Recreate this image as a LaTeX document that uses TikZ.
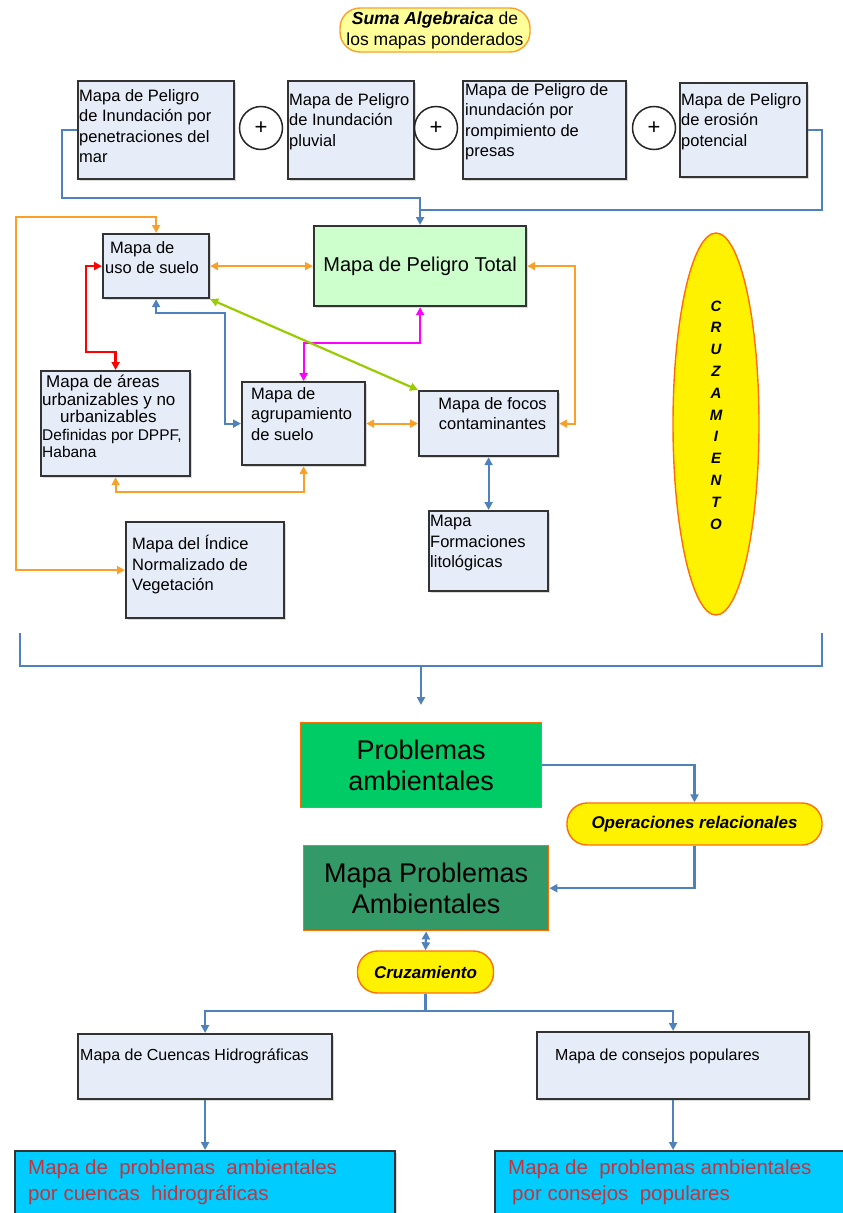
\documentclass[tikz,border=0pt]{standalone}
\usepackage{fontspec}
\setmainfont{Liberation Sans}
\usetikzlibrary{arrows.meta,shapes.geometric,shadows}

\definecolor{boxfill}{RGB}{230,236,248}
\definecolor{lineblue}{RGB}{79,129,189}
\definecolor{lineorange}{RGB}{250,160,40}
\definecolor{linegreen}{RGB}{153,204,0}
\definecolor{linepink}{RGB}{255,0,255}
\definecolor{linered}{RGB}{255,0,0}
\definecolor{peligrogreen}{RGB}{204,255,204}
\definecolor{probgreen}{RGB}{0,204,102}
\definecolor{mapgreen}{RGB}{51,153,102}
\definecolor{cyanfill}{RGB}{0,204,255}
\definecolor{redtext}{RGB}{200,50,60}
\definecolor{paleyellow}{RGB}{255,255,153}
\definecolor{edgeorange}{RGB}{255,110,0}

\begin{document}
\begin{tikzpicture}[x=1pt,y=-1pt,>={Triangle[length=8pt,width=8pt]},
  mapbox/.style={draw=black!80,line width=2.2pt,fill=boxfill,anchor=north west,inner sep=0pt,
    drop shadow={shadow xshift=1.5pt,shadow yshift=-1.5pt,opacity=.3}},
  maptext/.style={anchor=north west,align=left,inner sep=0pt,font=\fontsize{16.5}{20.5}\selectfont},
  plus/.style={circle,draw=black!85,line width=1.5pt,fill=white,minimum size=43pt,inner sep=0pt,
    font=\fontsize{22}{22}\selectfont},
  pill/.style={rounded corners=20pt,draw=edgeorange,line width=1.4pt,fill=yellow,inner sep=0pt,
    font=\fontsize{17}{20}\selectfont\bfseries\itshape},
  probbox/.style={draw=edgeorange,line width=1.4pt,anchor=north west,inner sep=0pt,align=center,
    font=\fontsize{27}{31}\selectfont},
  bluelink/.style={draw=lineblue,line width=2.2pt},
  orangelink/.style={draw=lineorange,line width=2.2pt}]
  \useasboundingbox (0,0) rectangle (843,1213);

  % suma algebraica de los mapas
  \node[pill,fill=paleyellow,draw=lineorange,minimum width=190,minimum height=44,align=center,
    font=\fontsize{17.5}{21}\selectfont] (suma) at (435,30)
    {\textbf{\textit{Suma Algebraica}} de\\los mapas ponderados};
  \node[mapbox,minimum width=156,minimum height=98] (pen) at (77,80) {};
  \node[maptext] (pent) at ([shift={(2,9)}]pen.north west)
    {Mapa de Peligro\\de Inundación por\\penetraciones del\\mar};
  \node[plus] (plus1) at (261,128) {+};
  \node[mapbox,minimum width=126,minimum height=98] (pluv) at (287,80) {};
  \node[maptext] (pluvt) at ([shift={(2,13)}]pluv.north west)
    {Mapa de Peligro\\de Inundación\\pluvial};
  \node[plus] (plus2) at (436,128) {+};
  \node[mapbox,minimum width=163,minimum height=98] (pres) at (462,80) {};
  \node[maptext] (prest) at ([shift={(3,3)}]pres.north west)
    {Mapa de Peligro de\\inundación por\\rompimiento de\\presas};
  \node[plus] (plus3) at (654,128) {+};
  \node[mapbox,minimum width=127,minimum height=94] (eros) at (679,82) {};
  \node[maptext] (erost) at ([shift={(2,11)}]eros.north west)
    {Mapa de Peligro\\de erosión\\potencial};

  % mapas que se cruzan
  \node[mapbox,fill=peligrogreen,minimum width=212,minimum height=80,
    font=\fontsize{20}{24}\selectfont] (total) at (313,225) {Mapa de Peligro Total};
  \node[mapbox,minimum width=106,minimum height=64] (uso) at (102,233) {};
  \node[maptext] (usot) at ([shift={(3,8)}]uso.north west) {\hspace{5pt}Mapa de\\uso de suelo};
  \node[mapbox,minimum width=149,minimum height=105] (areas) at (40,370) {};
  \node[maptext,font=\fontsize{17}{17.5}\selectfont] (areast) at ([shift={(2,5)}]areas.north west)
    {\hspace{4pt}Mapa de áreas\\urbanizables y no\\\hspace{18pt}urbanizables\\
     {\fontsize{15.5}{17.5}\selectfont Definidas por DPPF,}\\{\fontsize{15.5}{17.5}\selectfont Habana}};
  \node[mapbox,minimum width=123,minimum height=83] (agrup) at (241,381) {};
  \node[maptext] (agrupt) at ([shift={(10,6)}]agrup.north west) {Mapa de\\agrupamiento\\de suelo};
  \node[mapbox,minimum width=139,minimum height=65] (focos) at (418,390) {};
  \node[maptext,anchor=north,align=center] (focost) at ([shift={(4,7)}]focos.north)
    {Mapa de focos\\contaminantes};
  \node[mapbox,minimum width=119,minimum height=80] (formac) at (428,510) {};
  \node[maptext] (formact) at ([shift={(2,5)}]formac.north west)
    {Mapa\\Formaciones\\litológicas};
  \node[mapbox,minimum width=158,minimum height=96] (indice) at (125,521) {};
  \node[maptext] (indicet) at ([shift={(7,14)}]indice.north west)
    {Mapa del Índice\\Normalizado de\\Vegetación};
  \node[ellipse,draw=edgeorange,line width=1.4pt,fill=yellow,minimum width=86,minimum height=382]
    (cruzel) at (716,424) {};
  \node[font=\fontsize{15}{21.8}\selectfont\bfseries\itshape,align=center,inner sep=0pt]
    (cruzelt) at ([shift={(0,-9)}]cruzel.center) {C\\R\\U\\Z\\A\\M\\I\\E\\N\\T\\O};

  \draw[bluelink,->] (pen.west) -| (62,198) -| (total.north);
  \draw[bluelink] (eros.east) -| (822,210) -- (total.north |- 0,210);
  \draw[orangelink,<->] (uso.north) |- (16,217) |- (indice.west);
  \draw[orangelink,<->] (uso.east) -- (total.west);
  \draw[orangelink,<->] (total.east) -- ++(48,0) |- (focos.east);
  \draw[orangelink,<->] (agrup.east) -- (focos.west);
  \draw[orangelink,<->] (areas.south) -- ++(0,15) -| (agrup.south);
  \draw[linered,line width=2.6pt,<->] (uso.west) -| (86,352) -| (areas.north);
  \draw[bluelink,<->] (uso.south) |- (225,313) |- (agrup.west);
  \draw[linepink,line width=2.2pt,<->] (total.south) -- ++(0,36) -| (agrup.north);
  \draw[linegreen,line width=2.2pt,<->] (uso.south east) -- (focos.north west);
  \draw[bluelink,<->] (focos.south) -- (formac.north);

  % problemas ambientales
  \coordinate (brL) at (20,633);
  \coordinate (brR) at (822,633);
  \coordinate (brM) at (421,666);
  \coordinate (brEnd) at (421,705);
  \node[probbox,fill=probgreen,minimum width=241,minimum height=85] (prob) at (300,722)
    {Problemas\\ambientales};
  \node[pill,minimum width=255,minimum height=42] (ops) at (694.5,824) {Operaciones relacionales};
  \node[probbox,fill=mapgreen,minimum width=245,minimum height=85] (mapa) at (303,845)
    {Mapa Problemas\\Ambientales};
  \node[pill,minimum width=136,minimum height=42] (cruz) at (425.5,972) {Cruzamiento};
  \node[mapbox,minimum width=254,minimum height=65] (cuencas) at (77,1033) {};
  \node[maptext,font=\fontsize{16}{20}\selectfont] (cuencast) at ([shift={(3,16)}]cuencas.north west)
    {Mapa de Cuencas Hidrográficas};
  \node[mapbox,minimum width=272,minimum height=67] (consejos) at (536,1031) {};
  \node[maptext,font=\fontsize{16}{20}\selectfont] (consejost) at ([shift={(19,18)}]consejos.north west)
    {Mapa de consejos populares};
  \node[mapbox,fill=cyanfill,minimum width=380,minimum height=80] (cuencasprob) at (14,1150) {};
  \node[maptext,text=redtext,font=\fontsize{20.5}{26}\selectfont] (cuencasprobt)
    at ([shift={(14,9)}]cuencasprob.north west)
    {Mapa de~ problemas~ ambientales\\por cuencas~ hidrográficas};
  \node[mapbox,fill=cyanfill,minimum width=356,minimum height=80] (consejosprob) at (494,1150) {};
  \node[maptext,text=redtext,font=\fontsize{20.5}{26}\selectfont] (consejosprobt)
    at ([shift={(14,9)}]consejosprob.north west)
    {Mapa de~ problemas ambientales\\\hspace{4pt}por consejos~ populares};

  \draw[bluelink] (brL) |- (brM) -| (brR);
  \draw[bluelink,->] (brM) -- (brEnd);
  \draw[bluelink,->] (prob.east) -| (ops.north);
  \draw[bluelink,->] (ops.south) |- (mapa.east);
  \draw[bluelink,<->] (mapa.south) -- (cruz.north);
  \draw[bluelink,->] (cruz.south) -- ++(0,17) -| (cuencas.north);
  \draw[bluelink,->] (cruz.south) -- ++(0,17) -| (consejos.north);
  \draw[bluelink,->] (cuencas.south) -- (cuencasprob.north);
  \draw[bluelink,->] (consejos.south) -- (consejosprob.north);
\end{tikzpicture}
\end{document}
